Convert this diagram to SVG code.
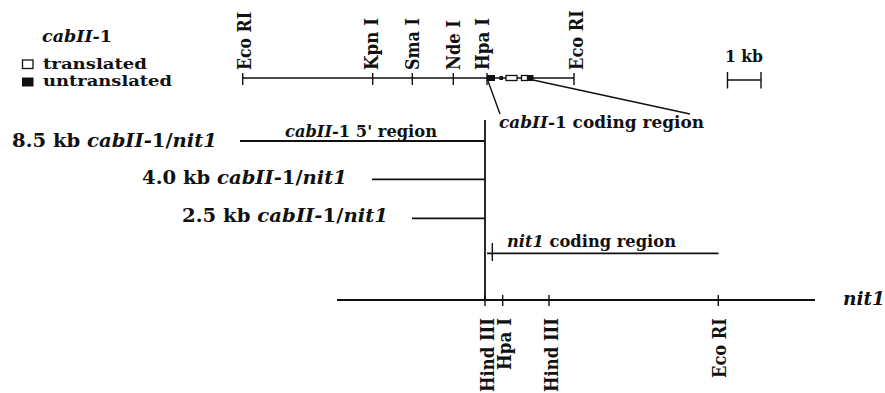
<svg xmlns="http://www.w3.org/2000/svg" width="885" height="393" viewBox="0 0 885 393">
<style>
text{font-family:"DejaVu Serif","Liberation Serif",serif;font-weight:bold;fill:#111}
.i{font-style:italic}
.ln{stroke:#111;stroke-width:1.8;fill:none}
.th{stroke:#111;stroke-width:1.4;fill:none}
</style>
<rect width="885" height="393" fill="#fff"/>
<g id="legend">
<text x="42" y="41.5" font-size="16" textLength="70" lengthAdjust="spacingAndGlyphs"><tspan class="i">cabII-</tspan>1</text>
<rect x="22.5" y="60" width="10.5" height="8.5" fill="#fff" stroke="#111" stroke-width="1.3"/>
<text x="43" y="68.5" font-size="14.5" textLength="104" lengthAdjust="spacingAndGlyphs">translated</text>
<rect x="22" y="77.5" width="11.5" height="9" fill="#111"/>
<text x="43" y="86" font-size="14.5" textLength="129" lengthAdjust="spacingAndGlyphs">untranslated</text>
</g>
<g id="scale">
<text x="725" y="61.5" font-size="16" textLength="38" lengthAdjust="spacingAndGlyphs">1 kb</text>
<path class="th" d="M727.5 80H761M727.5 72V88.5M761 72V88.5"/>
</g>
<g id="cabII-map">
<path class="th" d="M242.7 78H574M242.7 73V85M372.7 73V85M412.3 73V85M453.3 73V85M574 73V85M487 73V85"/>
<rect x="487" y="75" width="8" height="6" fill="#111"/>
<rect x="499.5" y="76" width="3.5" height="4" fill="#111"/>
<rect x="506" y="75.5" width="11" height="5" fill="#fff" stroke="#111" stroke-width="1.3"/>
<rect x="521.5" y="75.5" width="6" height="5" fill="#fff" stroke="#111" stroke-width="1.3"/>
<rect x="527" y="75" width="6.5" height="6" fill="#111"/>
<text transform="translate(250.5,70) rotate(-90)" font-size="18.5" textLength="58" lengthAdjust="spacingAndGlyphs">Eco RI</text>
<text transform="translate(378,70) rotate(-90)" font-size="18.5" textLength="52" lengthAdjust="spacingAndGlyphs">Kpn I</text>
<text transform="translate(418.5,70) rotate(-90)" font-size="18.5" textLength="52" lengthAdjust="spacingAndGlyphs">Sma I</text>
<text transform="translate(459.5,70) rotate(-90)" font-size="18.5" textLength="50" lengthAdjust="spacingAndGlyphs">Nde I</text>
<text transform="translate(489,70) rotate(-90)" font-size="18.5" textLength="52" lengthAdjust="spacingAndGlyphs">Hpa I</text>
<text transform="translate(583,70) rotate(-90)" font-size="18.5" textLength="60" lengthAdjust="spacingAndGlyphs">Eco RI</text>
</g>
<g id="coding-label">
<text x="499" y="127.5" font-size="17" textLength="205" lengthAdjust="spacingAndGlyphs"><tspan class="i">cabII-</tspan>1 coding region</text>
</g>
<g id="connectors">
<path class="th" d="M488 81L500 114M533 80L690 114"/>
<path class="ln" d="M485 120V301"/>
<path class="ln" d="M240 141H485M372 179.3H485M412 218.3H485"/>
<path class="ln" d="M487 253.3H718.5"/>
<path class="th" d="M492.3 243V261"/>
<path class="ln" d="M337 300H815"/>
<path class="th" d="M485 295V306M502.7 295V306M549 295V306M718.3 295V306"/>
</g>
<g id="constructs">
<text x="12" y="146.5" font-size="18" textLength="205" lengthAdjust="spacingAndGlyphs">8.5 kb <tspan class="i">cabII-</tspan>1/<tspan class="i">nit1</tspan></text>
<text x="142" y="184" font-size="18" textLength="205" lengthAdjust="spacingAndGlyphs">4.0 kb <tspan class="i">cabII-</tspan>1/<tspan class="i">nit1</tspan></text>
<text x="182" y="221.5" font-size="18" textLength="206" lengthAdjust="spacingAndGlyphs">2.5 kb <tspan class="i">cabII-</tspan>1/<tspan class="i">nit1</tspan></text>
<text x="285" y="136.5" font-size="16" textLength="152" lengthAdjust="spacingAndGlyphs"><tspan class="i">cabII-</tspan>1 5' region</text>
<text x="507" y="246.5" font-size="17" textLength="169" lengthAdjust="spacingAndGlyphs"><tspan class="i">nit1</tspan> coding region</text>
</g>
<g id="nit1-map">
<text x="843" y="305" font-size="19" class="i" textLength="42" lengthAdjust="spacingAndGlyphs">nit1</text>
<text transform="translate(493.5,318) rotate(-90)" font-size="18.5" text-anchor="end" textLength="74" lengthAdjust="spacingAndGlyphs">Hind III</text>
<text transform="translate(511,318) rotate(-90)" font-size="18.5" text-anchor="end" textLength="52" lengthAdjust="spacingAndGlyphs">Hpa I</text>
<text transform="translate(557.5,318) rotate(-90)" font-size="18.5" text-anchor="end" textLength="74" lengthAdjust="spacingAndGlyphs">Hind III</text>
<text transform="translate(726,318) rotate(-90)" font-size="18.5" text-anchor="end" textLength="60" lengthAdjust="spacingAndGlyphs">Eco RI</text>
</g>
</svg>
